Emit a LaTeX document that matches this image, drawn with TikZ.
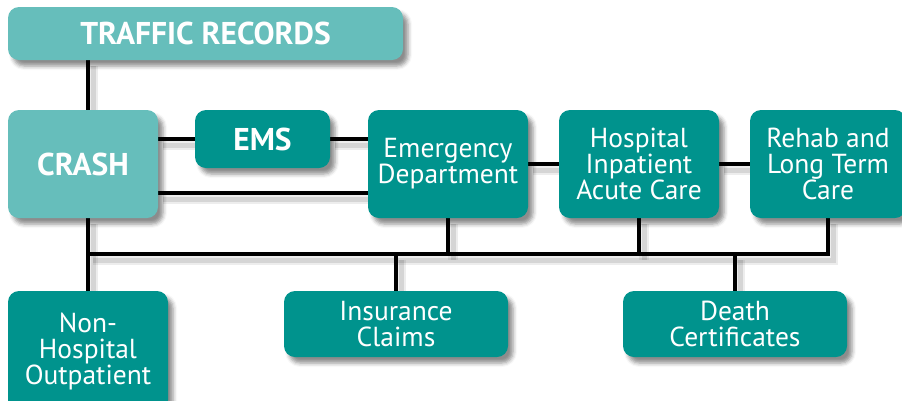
\documentclass[tikz,border=0pt]{standalone}
\usepackage{fontspec}
\setmainfont{PT Sans}
\usetikzlibrary{shadows.blur,backgrounds}

\definecolor{tealdark}{RGB}{0,147,141}
\definecolor{teallight}{RGB}{102,190,187}

\tikzset{
  box/.style={fill=tealdark, rounded corners=11pt, text=white, align=center,
    inner sep=0pt,
    blur shadow={shadow xshift=5pt, shadow yshift=-6pt,
      shadow blur radius=4pt, shadow opacity=45},
    font=\fontsize{27.5}{26}\selectfont},
  keybox/.style={box, fill=teallight, font=\fontsize{31.5}{31.5}\selectfont\bfseries},
  wire/.style={line width=4pt,
    preaction={draw=black, draw opacity=0.07, line width=10pt,
      transform canvas={shift={(5pt,-6pt)}}},
    preaction={draw=black, draw opacity=0.1, line width=5pt,
      transform canvas={shift={(5pt,-6pt)}}}},
}

\begin{document}
\begin{tikzpicture}[x=1pt, y=-1pt]
  \useasboundingbox (0,0) rectangle (902,400);
  \node[keybox, minimum width=395pt, minimum height=53pt] (records) at (205.5,33.5) {TRAFFIC RECORDS};
  \node[keybox, minimum width=150pt, minimum height=108pt] (crash) at (83,164) {CRASH};
  \node[box, minimum width=135pt, minimum height=58pt, font=\fontsize{31.5}{31.5}\selectfont\bfseries] (ems) at (262.5,139) {EMS};
  \node[box, minimum width=160pt, minimum height=108pt] (ed) at (448,164) {Emergency\\Department};
  \node[box, minimum width=160pt, minimum height=108pt] (hosp) at (639,164) {Hospital\\Inpatient\\Acute Care};
  \node[box, minimum width=156pt, minimum height=108pt] (rehab) at (828,164) {Rehab and\\Long Term\\Care};
  \node[box, minimum width=160pt, minimum height=120pt] (nonhosp) at (88,351) {Non-\\Hospital\\Outpatient};
  \node[box, minimum width=224pt, minimum height=66pt] (insur) at (396,324) {Insurance\\Claims};
  \node[box, minimum width=224pt, minimum height=66pt] (death) at (735,324) {Death\\Certificates};

  % rails the lower links run along
  \coordinate (low) at (0,193);
  \coordinate (bus) at (0,254);

  \begin{scope}[on background layer]
    \draw[wire] (records.south -| nonhosp.north) to (crash.north -| nonhosp.north);
    \draw[wire] (crash.east |- ems.west) to (ems.west);
    \draw[wire] (ems.east) to (ed.west |- ems.east);
    \draw[wire] (crash.east |- low) to (ed.west |- low);
    \draw[wire] (ed.east) to (hosp.west);
    \draw[wire] (hosp.east) to (rehab.west);
    \draw[wire] (crash.south -| nonhosp.north) to (nonhosp.north);
    \draw[wire] (nonhosp.north |- bus) -- (rehab.south |- bus) -- (rehab.south);
    \draw[wire] (ed.south) to (ed.south |- bus);
    \draw[wire] (hosp.south) to (hosp.south |- bus);
    \draw[wire] (insur.north |- bus) to (insur.north);
    \draw[wire] (death.north |- bus) to (death.north);
  \end{scope}
\end{tikzpicture}
\end{document}
